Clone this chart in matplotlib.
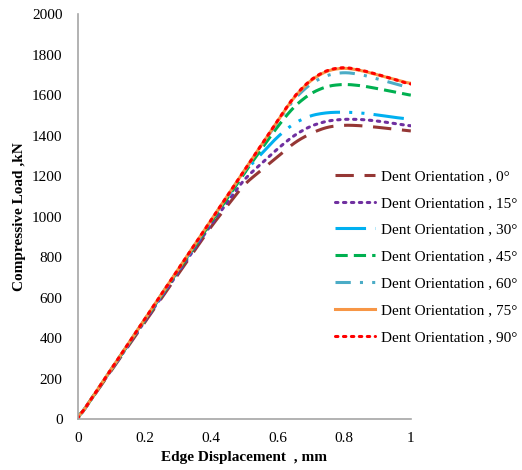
import numpy as np
import matplotlib.pyplot as plt

plt.rcParams["font.family"] = ["Liberation Serif", "DejaVu Serif"]

# edge displacement (mm) sample points
disp = [0, 0.2, 0.4, 0.5, 0.6, 0.65, 0.7, 0.75, 0.8, 0.85, 0.9, 0.95, 1.0]

# compressive load (kN) per dent orientation
load_0 = [0, 475, 950, 1160, 1295, 1365, 1412, 1443, 1452, 1449, 1441, 1432, 1422]
load_15 = [0, 480, 960, 1185, 1335, 1402, 1448, 1473, 1481, 1480, 1472, 1460, 1447]
load_30 = [0, 485, 975, 1220, 1395, 1462, 1500, 1514, 1516, 1512, 1502, 1490, 1480]
load_45 = [0, 488, 972, 1215, 1445, 1545, 1610, 1645, 1654, 1647, 1632, 1616, 1598]
load_60 = [0, 490, 980, 1225, 1468, 1582, 1658, 1700, 1713, 1702, 1680, 1657, 1634]
load_75 = [0, 490, 982, 1228, 1472, 1592, 1675, 1722, 1735, 1722, 1700, 1678, 1656]
load_90 = [0, 490, 982, 1228, 1474, 1595, 1678, 1725, 1738, 1724, 1702, 1678, 1652]

labels = ["Dent Orientation , 0°", "Dent Orientation , 15°", "Dent Orientation , 30°",
          "Dent Orientation , 45°", "Dent Orientation , 60°", "Dent Orientation , 75°",
          "Dent Orientation , 90°"]
colors = ["#953735", "#7030A0", "#00B0F0", "#00B050", "#4BACC6", "#F79646", "#FF0000"]
dotted = (0, (0.8, 1.8))
styles = [(0, (6, 3.5)), dotted, (0, (10, 3, 1, 3, 1, 3)), (0, (4, 2)),
          (0, (5, 3, 1, 3, 1, 3)), "-", dotted]

fig = plt.figure(figsize=(5.22, 4.70), dpi=100)
ax = fig.add_axes([0.149, 0.1085, 0.638, 0.8615])

xs = np.linspace(0, 1, 201)
for ys, lab, c, ls in zip([load_0, load_15, load_30, load_45, load_60, load_75, load_90],
                          labels, colors, styles):
    # smooth like the spreadsheet line
    lin = np.interp(xs, disp, ys)
    k = 9
    pad = np.pad(lin, k // 2, mode="edge")
    sm = np.convolve(pad, np.ones(k) / k, mode="valid")
    sm[0] = 0
    cap = "round" if ls == dotted else "butt"
    ax.plot(xs, sm, color=c, linestyle=ls, linewidth=2.2, label=lab,
            dash_capstyle=cap)

ax.set_xlim(0, 1)
ax.set_ylim(0, 2000)
ax.set_xticks(np.arange(0, 1.01, 0.2))
ax.set_xticklabels(["0", "0.2", "0.4", "0.6", "0.8", "1"])
ax.set_yticks(np.arange(0, 2001, 200))
ax.tick_params(length=0, labelsize=11)
ax.tick_params(axis="y", pad=11)
ax.tick_params(axis="x", pad=9)
for s in ["top", "right"]:
    ax.spines[s].set_visible(False)
for s in ["left", "bottom"]:
    ax.spines[s].set_color("#a6a6a6")
    ax.spines[s].set_linewidth(1.2)

ax.set_xlabel("Edge Displacement  , mm", fontsize=11, fontweight="bold", labelpad=5)
ax.set_ylabel("Compressive Load ,kN", fontsize=11, fontweight="bold", labelpad=4)

fig.legend(loc="upper left", bbox_to_anchor=(0.615, 0.669), frameon=False,
           fontsize=11, labelspacing=0.86, handlelength=2.6, handletextpad=0.45)

fig.savefig("out.png", dpi=100)
